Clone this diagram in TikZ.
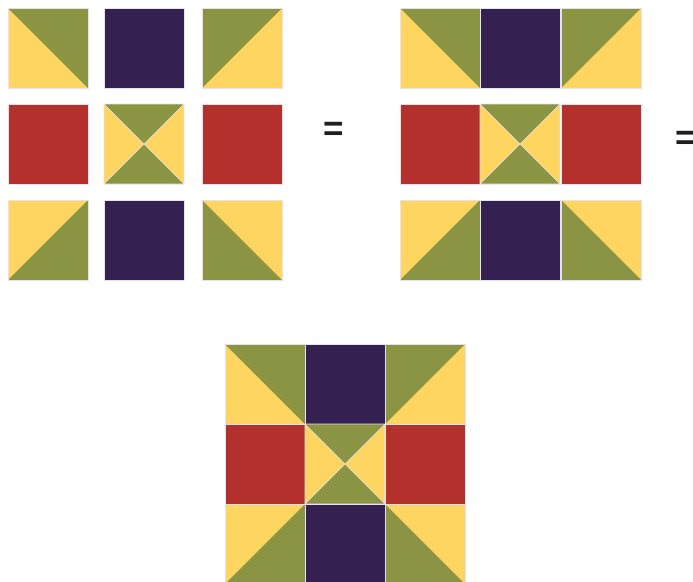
\documentclass[tikz,border=0pt]{standalone}
\usepackage{fontspec}
\newfontfamily\eqfont{Liberation Sans}
\definecolor{oli}{HTML}{8A9442}
\definecolor{yel}{HTML}{FFD561}
\definecolor{pur}{HTML}{352052}
\definecolor{qred}{HTML}{B3302D}
\definecolor{seam}{HTML}{E6E2EA}
\definecolor{eqink}{HTML}{1E1E1E}
\tikzset{
  seamline/.style={draw=seam, line width=0.6pt, line join=round},
  eqsign/.style={text=eqink, inner sep=0pt, anchor=base, font=\eqfont\bfseries\fontsize{35}{35}\selectfont},
  pics/tA/.style={code={
    \fill[yel] (0,0) rectangle (80,80);
    \fill[oli] (0,0) -- (80,0) -- (80,80) -- cycle;
    \draw[seamline] (0,0) rectangle (80,80);}},
  pics/tB/.style={code={
    \fill[yel] (0,0) rectangle (80,80);
    \fill[oli] (0,0) -- (80,0) -- (0,80) -- cycle;
    \draw[seamline] (0,0) rectangle (80,80);}},
  pics/tC/.style={code={
    \fill[yel] (0,0) rectangle (80,80);
    \fill[oli] (80,0) -- (80,80) -- (0,80) -- cycle;
    \draw[seamline] (0,0) rectangle (80,80);}},
  pics/tD/.style={code={
    \fill[yel] (0,0) rectangle (80,80);
    \fill[oli] (0,0) -- (80,80) -- (0,80) -- cycle;
    \draw[seamline] (0,0) rectangle (80,80);}},
  pics/tX/.style={code={
    \fill[yel] (0,0) rectangle (80,80);
    \fill[oli] (0,0) -- (80,0) -- (40,40) -- cycle;
    \fill[oli] (0,80) -- (80,80) -- (40,40) -- cycle;
    \draw[seamline] (0,0) rectangle (80,80) (0,0) -- (80,80) (80,0) -- (0,80);}},
  pics/tP/.style={code={
    \fill[pur] (0,0) rectangle (80,80);
    \draw[seamline] (0,0) rectangle (80,80);}},
  pics/tR/.style={code={
    \fill[qred] (0,0) rectangle (80,80);
    \draw[seamline] (0,0) rectangle (80,80);}},
}
\newcommand{\quiltnine}[6]{%
  \pic at (#1,#4) {tA}; \pic at (#2,#4) {tP}; \pic at (#3,#4) {tB};
  \pic at (#1,#5) {tR}; \pic at (#2,#5) {tX}; \pic at (#3,#5) {tR};
  \pic at (#1,#6) {tC}; \pic at (#2,#6) {tP}; \pic at (#3,#6) {tD};
}
\begin{document}
\begin{tikzpicture}[x=1pt, y=-1pt]
  \path[use as bounding box, fill=white] (0,0) rectangle (693,581);
  \quiltnine{8}{104}{202}{8}{104}{200}
  \quiltnine{400}{480}{561}{8}{104}{200}
  \quiltnine{225}{305}{385}{344}{424}{504}
  \node[eqsign] (eq1) at (333.5,140) {=};
  \node[eqsign] (eq2) at (686,149) {=};
\end{tikzpicture}
\end{document}
